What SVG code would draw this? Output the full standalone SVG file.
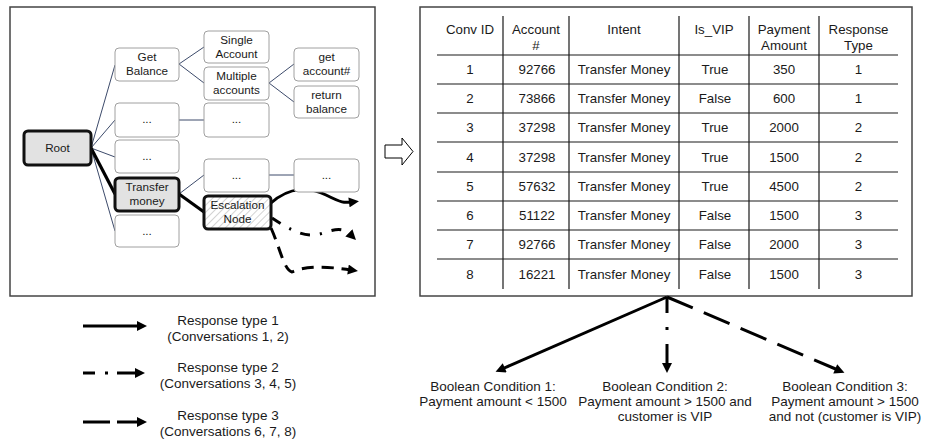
<svg xmlns="http://www.w3.org/2000/svg" width="939" height="440" viewBox="0 0 939 440">
<style>
text{font-family:"Liberation Sans",Arial,sans-serif;fill:#1a1a1a;text-anchor:middle}
.nt{font-size:11.7px}
.tt{font-size:13.3px}
.lt{font-size:13.5px}
.box{fill:#fff;stroke:#a0a0a0;stroke-width:1}
.hb{fill:#e2e2e2;stroke:#111;stroke-width:3}
.thin{stroke:#3d4b6b;stroke-width:1;fill:none}
.thick{stroke:#000;stroke-width:3.2;fill:none}
.arr{stroke:#000;stroke-width:3;fill:none;marker-end:url(#ah)}
.grid{stroke:#1a1a1a;stroke-width:1.2}
.panel{fill:#fff;stroke:#444;stroke-width:1.5}
</style>
<defs>
<marker id="ah" viewBox="0 0 10 10" refX="3" refY="5" markerWidth="11" markerHeight="10" markerUnits="userSpaceOnUse" orient="auto"><path d="M0,0 L10,5 L0,10 z" fill="#000"/></marker>
<pattern id="hatch" width="5" height="5" patternUnits="userSpaceOnUse" patternTransform="rotate(45)"><rect width="5" height="5" fill="#fff"/><line x1="0" y1="0" x2="0" y2="5" stroke="#c8c8c8" stroke-width="1.6"/></pattern>
</defs>
<rect width="939" height="440" fill="#fff"/>
<rect class="panel" x="10" y="7" width="365" height="289"/>
<rect class="panel" x="420" y="7" width="492" height="289"/>

<g id="connectors">
<line class="thin" x1="91" y1="148" x2="115" y2="65"/>
<line class="thin" x1="91" y1="148" x2="115" y2="120"/>
<line class="thin" x1="91" y1="148" x2="115" y2="157"/>
<line class="thin" x1="91" y1="148" x2="115" y2="231"/>
<line class="thick" x1="91" y1="148" x2="115" y2="194"/>
<line class="thin" x1="179" y1="64" x2="204" y2="47"/>
<line class="thin" x1="179" y1="64" x2="204" y2="83"/>
<line class="thin" x1="269" y1="83" x2="294" y2="64"/>
<line class="thin" x1="269" y1="83" x2="294" y2="102"/>
<line class="thin" x1="179" y1="120" x2="204" y2="120"/>
<line class="thin" x1="179" y1="194" x2="204" y2="175"/>
<line class="thin" x1="269" y1="175" x2="294" y2="175"/>
<line class="thick" x1="179" y1="194" x2="204" y2="212"/>
<path class="arr" d="M271,203 C290,186 310,187 326,195 S344,203 352,202"/>
<path class="arr" d="M272,218 C290,230 305,238 320,234 C333,230 342,226 351,235" stroke-dasharray="10 10 2 10"/>
<path class="arr" d="M271,228 C280,248 284,270 292,272 C305,266 325,266 351,270" stroke-dasharray="12 8"/>
<path class="arr" d="M667,297 L502,369"/>
<path class="arr" d="M667,297 L667,366" stroke-dasharray="16 14 3 14 30 0"/>
<path class="arr" d="M667,297 L838,370" stroke-dasharray="28 12"/>
</g>

<g id="root"><rect class="hb" x="24" y="131" width="67" height="34" rx="4"/><text class="nt" x="57.5" y="152">Root</text></g>
<g id="get-balance"><rect class="box" x="115" y="48" width="64" height="33" rx="4"/><text class="nt" x="147" y="61">Get</text><text class="nt" x="147" y="75">Balance</text></g>
<g id="single-account"><rect class="box" x="204" y="31" width="65" height="32" rx="4"/><text class="nt" x="236.5" y="44">Single</text><text class="nt" x="236.5" y="58">Account</text></g>
<g id="multiple-accounts"><rect class="box" x="204" y="67" width="65" height="33" rx="4"/><text class="nt" x="236.5" y="80">Multiple</text><text class="nt" x="236.5" y="94">accounts</text></g>
<g id="get-account"><rect class="box" x="294" y="48" width="65" height="33" rx="4"/><text class="nt" x="326.5" y="61">get</text><text class="nt" x="326.5" y="75">account#</text></g>
<g id="return-balance"><rect class="box" x="294" y="86" width="65" height="32" rx="4"/><text class="nt" x="326.5" y="99">return</text><text class="nt" x="326.5" y="113">balance</text></g>
<g id="dots-1"><rect class="box" x="115" y="103" width="64" height="34" rx="4"/><text class="nt" x="147" y="123">...</text></g>
<g id="dots-2"><rect class="box" x="204" y="103" width="65" height="34" rx="4"/><text class="nt" x="236.5" y="123">...</text></g>
<g id="dots-3"><rect class="box" x="115" y="140" width="64" height="33" rx="4"/><text class="nt" x="147" y="160">...</text></g>
<g id="transfer-money"><rect class="hb" x="115" y="178" width="64" height="33" rx="4"/><text class="nt" x="147" y="191">Transfer</text><text class="nt" x="147" y="205">money</text></g>
<g id="dots-4"><rect class="box" x="115" y="215" width="64" height="32" rx="4"/><text class="nt" x="147" y="235">...</text></g>
<g id="dots-5"><rect class="box" x="204" y="159" width="65" height="33" rx="4"/><text class="nt" x="236.5" y="179">...</text></g>
<g id="dots-6"><rect class="box" x="294" y="159" width="65" height="33" rx="4"/><text class="nt" x="326.5" y="179">...</text></g>
<g id="escalation-node"><rect x="204" y="196" width="67" height="33" rx="4" fill="url(#hatch)" stroke="#111" stroke-width="3"/><text class="nt" x="237.5" y="209">Escalation</text><text class="nt" x="237.5" y="223">Node</text></g>

<g id="transition-arrow"><path d="M385,145 L402,145 L402,138 L413,151.5 L402,165 L402,158 L385,158 Z" fill="#fff" stroke="#000" stroke-width="1"/></g>

<g id="table">
<g class="grid">
<line x1="503" y1="16" x2="503" y2="289"/>
<line x1="569" y1="16" x2="569" y2="289"/>
<line x1="679" y1="16" x2="679" y2="289"/>
<line x1="749" y1="16" x2="749" y2="289"/>
<line x1="819" y1="16" x2="819" y2="289"/>
<line x1="437" y1="55" x2="898" y2="55"/>
<line x1="437" y1="84" x2="898" y2="84"/>
<line x1="437" y1="113" x2="898" y2="113"/>
<line x1="437" y1="142" x2="898" y2="142"/>
<line x1="437" y1="172" x2="898" y2="172"/>
<line x1="437" y1="201" x2="898" y2="201"/>
<line x1="437" y1="230" x2="898" y2="230"/>
<line x1="437" y1="259" x2="898" y2="259"/>
</g>
<g class="tt">
<text class="tt" x="470" y="33.5">Conv ID</text>
<text class="tt" x="536" y="33.5">Account</text><text class="tt" x="536" y="49.5">#</text>
<text class="tt" x="624" y="33.5">Intent</text>
<text class="tt" x="714" y="33.5">Is_VIP</text>
<text class="tt" x="784" y="33.5">Payment</text><text class="tt" x="784" y="49.5">Amount</text>
<text class="tt" x="858.5" y="33.5">Response</text><text class="tt" x="858.5" y="49.5">Type</text>

<text class="tt" x="470" y="74">1</text><text class="tt" x="537" y="74">92766</text><text class="tt" x="624" y="74">Transfer Money</text><text class="tt" x="715" y="74">True</text><text class="tt" x="784" y="74">350</text><text class="tt" x="858.5" y="74">1</text>
<text class="tt" x="470" y="103">2</text><text class="tt" x="537" y="103">73866</text><text class="tt" x="624" y="103">Transfer Money</text><text class="tt" x="715" y="103">False</text><text class="tt" x="784" y="103">600</text><text class="tt" x="858.5" y="103">1</text>
<text class="tt" x="470" y="132">3</text><text class="tt" x="537" y="132">37298</text><text class="tt" x="624" y="132">Transfer Money</text><text class="tt" x="715" y="132">True</text><text class="tt" x="784" y="132">2000</text><text class="tt" x="858.5" y="132">2</text>
<text class="tt" x="470" y="161.5">4</text><text class="tt" x="537" y="161.5">37298</text><text class="tt" x="624" y="161.5">Transfer Money</text><text class="tt" x="715" y="161.5">True</text><text class="tt" x="784" y="161.5">1500</text><text class="tt" x="858.5" y="161.5">2</text>
<text class="tt" x="470" y="191">5</text><text class="tt" x="537" y="191">57632</text><text class="tt" x="624" y="191">Transfer Money</text><text class="tt" x="715" y="191">True</text><text class="tt" x="784" y="191">4500</text><text class="tt" x="858.5" y="191">2</text>
<text class="tt" x="470" y="220">6</text><text class="tt" x="537" y="220">51122</text><text class="tt" x="624" y="220">Transfer Money</text><text class="tt" x="715" y="220">False</text><text class="tt" x="784" y="220">1500</text><text class="tt" x="858.5" y="220">3</text>
<text class="tt" x="470" y="249">7</text><text class="tt" x="537" y="249">92766</text><text class="tt" x="624" y="249">Transfer Money</text><text class="tt" x="715" y="249">False</text><text class="tt" x="784" y="249">2000</text><text class="tt" x="858.5" y="249">3</text>
<text class="tt" x="470" y="278.5">8</text><text class="tt" x="537" y="278.5">16221</text><text class="tt" x="624" y="278.5">Transfer Money</text><text class="tt" x="715" y="278.5">False</text><text class="tt" x="784" y="278.5">1500</text><text class="tt" x="858.5" y="278.5">3</text>
</g>
</g>

<g id="condition-1"><text class="lt" x="493" y="391">Boolean Condition 1:</text><text class="lt" x="493" y="406">Payment amount &lt; 1500</text></g>
<g id="condition-2"><text class="lt" x="665" y="391">Boolean Condition 2:</text><text class="lt" x="665" y="406">Payment amount &gt; 1500 and</text><text class="lt" x="665" y="421">customer is VIP</text></g>
<g id="condition-3"><text class="lt" x="845" y="391">Boolean Condition 3:</text><text class="lt" x="845" y="406">Payment amount &gt; 1500</text><text class="lt" x="845" y="421">and not (customer is VIP)</text></g>

<g id="legend">
<path class="arr" d="M83,326 L140,326"/>
<text class="lt" x="228" y="325">Response type 1</text><text class="lt" x="228" y="341">(Conversations 1, 2)</text>
<path class="arr" d="M83,373 L138,373" stroke-dasharray="12 10 3 9 20 0"/>
<text class="lt" x="228" y="372">Response type 2</text><text class="lt" x="228" y="388">(Conversations 3, 4, 5)</text>
<path class="arr" d="M83,422 L140,422" stroke-dasharray="27 7"/>
<text class="lt" x="228" y="420">Response type 3</text><text class="lt" x="228" y="436">(Conversations 6, 7, 8)</text>
</g>
</svg>
